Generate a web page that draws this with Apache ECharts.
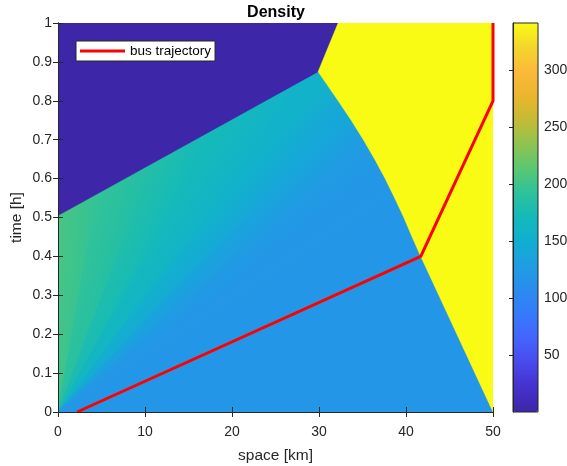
<!DOCTYPE html>
<html>
<head>
  <meta charset="utf-8">
  <script src="https://cdn.jsdelivr.net/npm/echarts@6.0.0/dist/echarts.min.js"></script>
</head>
<body style="margin: 0">
  <div id="container" style="width: 567px; height: 466px"></div>
  <script>
    // axis ranges and ticks
    var spaceMin = 0, spaceMax = 50, spaceStep = 10;
    var timeMin = 0, timeMax = 1, timeStep = 0.1;
    var densityMin = 0, densityMax = 341, densityStep = 50;

    // bus trajectory (space km, time h)
    var busSpace = [2.2, 41.7, 50, 50];
    var busTime = [0, 0.40, 0.80, 1.0];

    // empty road region (top left)
    var vacuumSpace = [0, 29.9, 32.2, 0];
    var vacuumTime = [0.505, 0.875, 1.0, 1.0];
    var vacuumDensity = 0;

    // jam region, bounded by the shock
    var shockSpace = [50, 41.7, 40.7, 39.75, 38.7, 37.6, 36.4, 35.1, 33.7, 32.2, 29.9, 32.2, 50];
    var shockTime = [0, 0.40, 0.45, 0.50, 0.55, 0.60, 0.65, 0.70, 0.75, 0.80, 0.875, 1.0, 1.0];
    var jamDensity = 341;

    // initial density downstream
    var baseDensity = 119;

    // rarefaction fan from the origin: ray speed (km/h) and density on that ray
    var fanSpeed = [0, 8, 17, 25, 34, 43, 51, 60, 75];
    var fanDensity = [206, 195, 183, 170, 158, 140, 126, 121, 119];

    var parula = ['#3e26a8', '#4530cc', '#4849ec', '#4563fd', '#3779fb', '#2a8bef', '#1f9de2',
      '#10aed2', '#14b9b9', '#2cc29c', '#5ac772', '#8fc351', '#c3bb35', '#ebb62c', '#fcb93a',
      '#f4d52c', '#f9fb15'];

    function hexRgb(h) {
      return [parseInt(h.slice(1, 3), 16), parseInt(h.slice(3, 5), 16), parseInt(h.slice(5, 7), 16)];
    }
    function densityColor(v) {
      var f = (v - densityMin) / (densityMax - densityMin) * (parula.length - 1);
      f = Math.max(0, Math.min(parula.length - 1, f));
      var i = Math.min(Math.floor(f), parula.length - 2);
      var k = f - i;
      var a = hexRgb(parula[i]), b = hexRgb(parula[i + 1]);
      return 'rgb(' + a.map(function (c, j) { return Math.round(c + (b[j] - c) * k); }).join(',') + ')';
    }

    var font = 'Liberation Sans, Arial, Helvetica, sans-serif';
    var ink = '#262626';

    function polygonItem(xs, ts, api, fill) {
      var pts = xs.map(function (x, i) { return api.coord([x, ts[i]]); });
      return { type: 'polygon', shape: { points: pts }, style: { fill: fill, stroke: fill, lineWidth: 0.5 } };
    }

    var chart = echarts.init(document.getElementById('container'), null, { renderer: 'canvas' });

    var option = {
      animation: false,
      textStyle: { fontFamily: font },
      title: {
        text: 'Density', left: 276, top: 5, textAlign: 'center', padding: 0,
        textStyle: { fontSize: 16, fontWeight: 'bold', color: '#000', fontFamily: font }
      },
      legend: {
        data: ['bus trajectory'],
        left: 76, top: 41, padding: [3, 4, 3, 4],
        icon: 'rect', itemWidth: 45, itemHeight: 3,
        backgroundColor: '#fff', borderColor: ink, borderWidth: 1,
        textStyle: { fontSize: 13.5, color: '#000', fontFamily: font }
      },
      grid: [
        { left: 58, top: 23, width: 435, height: 389, show: false, outerBoundsMode: 'none', containLabel: false },
        { left: 513, top: 23, width: 25, height: 389, show: true, borderColor: ink, borderWidth: 1, z: 10,
          backgroundColor: 'transparent', outerBoundsMode: 'none', containLabel: false }
      ],
      visualMap: {
        type: 'continuous', min: densityMin, max: densityMax,
        left: 513, top: 23, itemWidth: 25, itemHeight: 389, padding: 0,
        calculable: false, hoverLink: false, seriesIndex: [],
        inRange: { color: parula }
      },
      xAxis: [
        {
          gridIndex: 0, type: 'value', min: spaceMin, max: spaceMax, interval: spaceStep, position: 'bottom', z: 10,
          name: 'space [km]', nameLocation: 'middle', nameGap: 36, nameMoveOverlap: false,
          nameTextStyle: { fontSize: 15.5, color: ink, fontFamily: font },
          axisLine: { lineStyle: { color: ink } },
          axisTick: { inside: true, length: 5, lineStyle: { color: ink } },
          axisLabel: { fontSize: 14, color: ink, margin: 13, fontFamily: font },
          splitLine: { show: false }
        },
        {
          gridIndex: 0, type: 'value', min: spaceMin, max: spaceMax, interval: spaceStep, position: 'top', z: 10,
          axisLine: { lineStyle: { color: ink } },
          axisTick: { inside: true, length: 5, lineStyle: { color: ink } },
          axisLabel: { show: false }, splitLine: { show: false }
        },
        { gridIndex: 1, type: 'value', min: 0, max: 1, show: false }
      ],
      yAxis: [
        {
          gridIndex: 0, type: 'value', min: timeMin, max: timeMax, interval: timeStep, position: 'left', z: 10,
          name: 'time [h]', nameLocation: 'middle', nameGap: 33, nameMoveOverlap: false,
          nameTextStyle: { fontSize: 15.5, color: ink, fontFamily: font },
          axisLine: { lineStyle: { color: ink } },
          axisTick: { inside: true, length: 5, lineStyle: { color: ink } },
          axisLabel: { fontSize: 14, color: ink, margin: 6, fontFamily: font },
          splitLine: { show: false }
        },
        {
          gridIndex: 0, type: 'value', min: timeMin, max: timeMax, interval: timeStep, position: 'right', z: 10,
          axisLine: { lineStyle: { color: ink } },
          axisTick: { inside: true, length: 5, lineStyle: { color: ink } },
          axisLabel: { show: false }, splitLine: { show: false }
        },
        {
          gridIndex: 1, type: 'value', min: densityMin, max: densityMax, interval: densityStep, position: 'right', z: 10,
          axisLine: { lineStyle: { color: ink } },
          axisTick: { inside: true, length: 4, lineStyle: { color: ink } },
          axisLabel: { fontSize: 14, color: ink, margin: 6, showMinLabel: false, showMaxLabel: false, fontFamily: font },
          splitLine: { show: false }
        }
      ],
      series: [
        {
          // initial downstream density fills the whole field
          type: 'custom', name: 'base', xAxisIndex: 0, yAxisIndex: 0, clip: true, z: 1,
          data: [[baseDensity]],
          renderItem: function (params, api) {
            var r = params.coordSys;
            var c = densityColor(api.value(0));
            return { type: 'rect', shape: { x: r.x, y: r.y, width: r.width, height: r.height }, style: { fill: c } };
          }
        },
        {
          // fan wedges between consecutive rays
          type: 'custom', name: 'fan', xAxisIndex: 0, yAxisIndex: 0, clip: true, z: 2,
          data: fanSpeed.slice(1).map(function (s, i) { return [i]; }),
          renderItem: function (params, api) {
            var i = params.dataIndex;
            var s0 = fanSpeed[i], s1 = fanSpeed[i + 1];
            var O = api.coord([0, 0]);
            var tRef = 0.6;
            var A = api.coord([s0 * tRef, tRef]), B = api.coord([s1 * tRef, tRef]);
            var M = [(A[0] + B[0]) / 2, (A[1] + B[1]) / 2];
            var dx = M[0] - O[0], dy = M[1] - O[1];
            var len = Math.hypot(dx, dy);
            dx /= len; dy /= len;
            var nx = -dy, ny = dx;
            var pa = (A[0] - M[0]) * nx + (A[1] - M[1]) * ny;
            var pb = (B[0] - M[0]) * nx + (B[1] - M[1]) * ny;
            var grad = new echarts.graphic.LinearGradient(
              M[0] + nx * pa, M[1] + ny * pa, M[0] + nx * pb, M[1] + ny * pb,
              [{ offset: 0, color: densityColor(fanDensity[i]) }, { offset: 1, color: densityColor(fanDensity[i + 1]) }],
              true);
            var pts = [O, api.coord([s0 * timeMax, timeMax]), api.coord([s1 * timeMax, timeMax])];
            return { type: 'polygon', shape: { points: pts }, style: { fill: grad, stroke: grad, lineWidth: 1 } };
          }
        },
        {
          type: 'custom', name: 'vacuum', xAxisIndex: 0, yAxisIndex: 0, clip: true, z: 3,
          data: [[vacuumDensity]],
          renderItem: function (params, api) {
            return polygonItem(vacuumSpace, vacuumTime, api, densityColor(api.value(0)));
          }
        },
        {
          type: 'custom', name: 'jam', xAxisIndex: 0, yAxisIndex: 0, clip: true, z: 3,
          data: [[jamDensity]],
          renderItem: function (params, api) {
            return polygonItem(shockSpace, shockTime, api, densityColor(api.value(0)));
          }
        },
        {
          type: 'line', name: 'bus trajectory', xAxisIndex: 0, yAxisIndex: 0,
          data: busSpace.map(function (x, i) { return [x, busTime[i]]; }),
          symbol: 'none', clip: false, z: 5,
          color: '#ff0000',
          lineStyle: { color: '#ff0000', width: 3 }
        }
      ]
    };

    chart.setOption(option);
    window.addEventListener('resize', chart.resize);
  </script>
</body>
</html>
